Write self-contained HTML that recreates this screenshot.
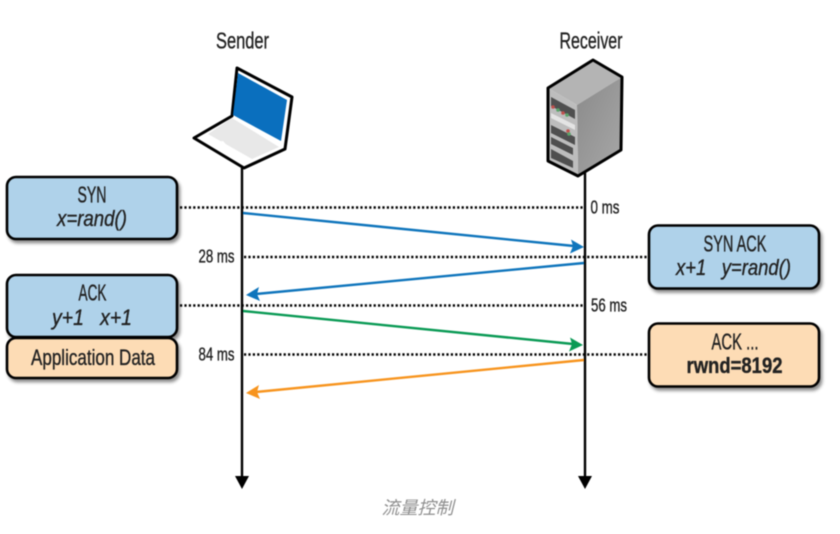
<!DOCTYPE html>
<html><head><meta charset="utf-8"><style>
html,body{margin:0;padding:0;background:#fff}
svg{display:block}
text{font-family:"Liberation Sans","Noto Sans CJK SC",sans-serif;fill:#222;stroke:#222;stroke-width:.35px;text-anchor:middle}
.b{filter:blur(.45px)}
</style></head><body>
<svg width="840" height="534" viewBox="0 0 840 534" xmlns="http://www.w3.org/2000/svg">
<defs>
<filter id="s" x="-10%" y="-10%" width="125%" height="130%"><feDropShadow dx="2" dy="3" stdDeviation="1.600" flood-color="#000" flood-opacity=".45"/></filter>
<linearGradient id="r" x1="0" y1="0" x2="1" y2="1"><stop offset="0" stop-color="#8a8a8a"/><stop offset="1" stop-color="#a8a8a8"/></linearGradient>
</defs>
<g class="b">
<!-- labels -->
<text x="242.500" y="48.500" font-size="23" textLength="53" lengthAdjust="spacingAndGlyphs">Sender</text>
<text x="591" y="48.500" font-size="23" textLength="63" lengthAdjust="spacingAndGlyphs">Receiver</text>

<!-- lifelines -->
<line x1="242" y1="166" x2="242" y2="478" stroke="#000" stroke-width="2.400"/>
<polygon points="235,476 249,476 242,489" fill="#000"/>
<line x1="585" y1="172" x2="585" y2="478" stroke="#000" stroke-width="2.400"/>
<polygon points="578,476 592,476 585,489" fill="#000"/>

<!-- dotted -->
<g stroke="#000" stroke-width="2.400" stroke-dasharray="2.200 2.200" fill="none">
<line x1="180" y1="207.500" x2="585" y2="207.500"/>
<line x1="244" y1="257" x2="647" y2="257"/>
<line x1="180" y1="305.500" x2="585" y2="305.500"/>
<line x1="244" y1="354.500" x2="647" y2="354.500"/>
</g>

<!-- arrows -->
<line x1="243" y1="213" x2="574" y2="246" stroke="#0f75bc" stroke-width="2.400"/>
<polygon points="584,247 571,239.500 573,246 570,253.500" fill="#0f75bc"/>
<line x1="584" y1="263" x2="256" y2="294" stroke="#0f75bc" stroke-width="2.400"/>
<polygon points="246,295 259,287 257,294 260,301" fill="#0f75bc"/>
<line x1="243" y1="311" x2="573" y2="344" stroke="#0a9a55" stroke-width="2.400"/>
<polygon points="583,345 570,337.500 572,344 569,351.500" fill="#0a9a55"/>
<line x1="584" y1="360" x2="256" y2="392" stroke="#f7941e" stroke-width="2.400"/>
<polygon points="246,393 259,385 257,392 260,399" fill="#f7941e"/>

<!-- time labels -->
<text x="605" y="213.500" font-size="18" textLength="29" lengthAdjust="spacingAndGlyphs">0 ms</text>
<text x="216.500" y="262.500" font-size="18" textLength="36" lengthAdjust="spacingAndGlyphs">28 ms</text>
<text x="609" y="311.500" font-size="18" textLength="36" lengthAdjust="spacingAndGlyphs">56 ms</text>
<text x="216.500" y="360.500" font-size="18" textLength="36" lengthAdjust="spacingAndGlyphs">84 ms</text>

<!-- boxes -->
<g stroke="#000" stroke-width="2.600" filter="url(#s)">
<rect x="7" y="177" width="170" height="62" rx="9" fill="#afd2ea"/>
<rect x="649" y="225.500" width="170" height="63" rx="9" fill="#afd2ea"/>
<rect x="7" y="338" width="170" height="40" rx="9" fill="#fddcb5"/>
<rect x="7" y="275" width="170" height="62" rx="9" fill="#afd2ea"/>
<rect x="649" y="323.500" width="170" height="63" rx="9" fill="#fddcb5"/>
</g>

<!-- box text -->
<text x="92" y="202.500" font-size="23" textLength="29" lengthAdjust="spacingAndGlyphs">SYN</text>
<text x="92" y="226" font-size="22" font-style="italic" textLength="70" lengthAdjust="spacingAndGlyphs">x=rand()</text>
<text x="92.500" y="300.500" font-size="23" textLength="28" lengthAdjust="spacingAndGlyphs">ACK</text>
<text x="92" y="325" font-size="22" font-style="italic" textLength="80" lengthAdjust="spacingAndGlyphs" xml:space="preserve">y+1   x+1</text>
<text x="93" y="365" font-size="22" textLength="124" lengthAdjust="spacingAndGlyphs">Application Data</text>
<text x="735" y="251.500" font-size="23" textLength="63" lengthAdjust="spacingAndGlyphs">SYN ACK</text>
<text x="733.500" y="275" font-size="22" font-style="italic" textLength="115" lengthAdjust="spacingAndGlyphs" xml:space="preserve">x+1   y=rand()</text>
<text x="735" y="349.500" font-size="23" textLength="47" lengthAdjust="spacingAndGlyphs">ACK ...</text>
<text x="734.500" y="373" font-size="22" font-weight="bold" textLength="96" lengthAdjust="spacingAndGlyphs">rwnd=8192</text>

<!-- laptop -->
<polygon points="237,68 292,97 285,149 244,168 194,138 232,116" fill="#fff" stroke="#000" stroke-width="3" stroke-linejoin="round"/>
<polygon points="238,73 287,100 281,141 233,115" fill="#0a6fbe"/>
<polygon points="232,118 279,147 252,159 208,134" fill="#e8e8e8"/>
<polygon points="215,142 223,141 233,152 227,154" fill="#fff"/>

<!-- server -->
<polygon points="548,88 593,60 622,77 577,105" fill="#b4b4b4"/>
<polygon points="577,105 622,77 621,150 578,176" fill="url(#r)"/>
<polygon points="548,88 577,105 578,176 548,161" fill="#bdbdbd"/>
<polygon points="551,97 575,110 575,119 551,106" fill="#4f4f4f"/>
<polygon points="551,113 575,125 575,130 551,118" fill="#e4e4e4"/>
<polygon points="551,125 575,137 575,145 551,133" fill="#4f4f4f"/>
<polygon points="551,137 573,148 573,155 551,144" fill="#4f4f4f"/>
<polygon points="551,149 573,161 573,168 551,158" fill="#4f4f4f"/>
<circle cx="553" cy="107" r="1.800" fill="#c0504d"/><circle cx="558" cy="110" r="1.800" fill="#5aa469"/><circle cx="563" cy="113" r="1.800" fill="#c0504d"/><circle cx="567" cy="115" r="1.800" fill="#5aa469"/>
<circle cx="568" cy="131" r="1.800" fill="#c0504d"/><circle cx="569" cy="134" r="1.800" fill="#5aa469"/>
<polygon points="548,88 593,60 622,77 621,150 578,176 548,161" fill="none" stroke="#000" stroke-width="3" stroke-linejoin="round"/>

<!-- caption -->
<text x="417.500" y="514" font-size="18" font-style="italic" style="fill:#8f8f8f;stroke:none">流量控制</text>
</g>
</svg>
</body></html>
